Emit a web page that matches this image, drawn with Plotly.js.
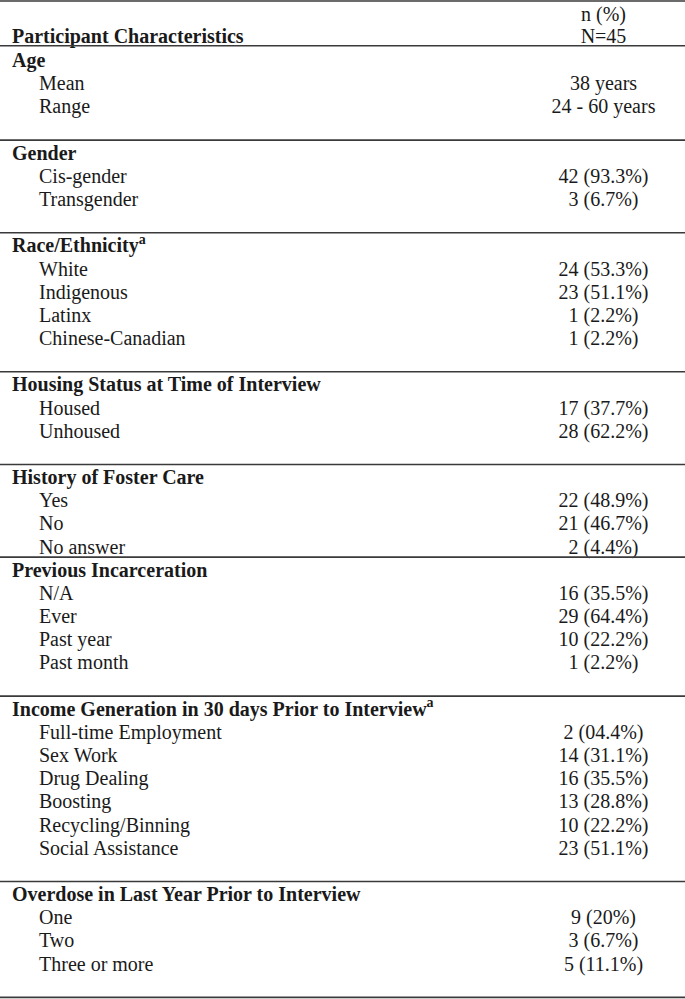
<!DOCTYPE html>
<html>
<head>
<meta charset="utf-8">
<script src="https://cdn.plot.ly/plotly-3.0.1.min.js"></script>
<style>html,body{margin:0;padding:0;background:#fff;}#chart{width:685px;height:999px;}</style>
</head>
<body>
<div id="chart"></div>
<script>
// ---- data ----
const tableTitle = "Participant Characteristics";
const valueHeader = ["n (%)", "N=45"];
const categories = [
  "Age",
  "Gender",
  "Race/Ethnicity<sup>a</sup>",
  "Housing Status at Time of Interview",
  "History of Foster Care",
  "Previous Incarceration",
  "Income Generation in 30 days Prior to Interview<sup>a</sup>",
  "Overdose in Last Year Prior to Interview"
];
const itemLabels = [
  ["Mean", "Range"],
  ["Cis-gender", "Transgender"],
  ["White", "Indigenous", "Latinx", "Chinese-Canadian"],
  ["Housed", "Unhoused"],
  ["Yes", "No", "No answer"],
  ["N/A", "Ever", "Past year", "Past month"],
  ["Full-time Employment", "Sex Work", "Drug Dealing", "Boosting", "Recycling/Binning", "Social Assistance"],
  ["One", "Two", "Three or more"]
];
const itemValues = [
  ["38 years", "24 - 60 years"],
  ["42 (93.3%)", "3 (6.7%)"],
  ["24 (53.3%)", "23 (51.1%)", "1 (2.2%)", "1 (2.2%)"],
  ["17 (37.7%)", "28 (62.2%)"],
  ["22 (48.9%)", "21 (46.7%)", "2 (4.4%)"],
  ["16 (35.5%)", "29 (64.4%)", "10 (22.2%)", "1 (2.2%)"],
  ["2 (04.4%)", "14 (31.1%)", "16 (35.5%)", "13 (28.8%)", "10 (22.2%)", "23 (51.1%)"],
  ["9 (20%)", "3 (6.7%)", "5 (11.1%)"]
];
// blank spacer rows after each section (layout)
const spacerRows = [1, 1, 1, 1, 0, 1, 1, 1];

// ---- layout constants ----
const FONT = "Liberation Serif, Times New Roman, serif";
const FS = 20;
const X_HEAD = 12, X_ITEM = 39, X_VAL = 603.5;
const LINE_OFF = 0.63;

// ---- build rows ----
const headX = [], headY = [], headT = [];
const itemX = [], itemY = [], itemT = [];
const valX = [], valY = [], valT = [];
const ruleRows = [];
let r = 0;
categories.forEach((c, i) => {
  ruleRows.push(r - LINE_OFF);
  headX.push(X_HEAD); headY.push(r); headT.push("<b>" + c + "</b>");
  itemLabels[i].forEach((lab, j) => {
    r += 1;
    itemX.push(X_ITEM); itemY.push(r); itemT.push(lab);
    valX.push(X_VAL); valY.push(r); valT.push(itemValues[i][j]);
  });
  r += 1 + spacerRows[i];
});
ruleRows.push(r - LINE_OFF);

// header row
headX.push(X_HEAD); headY.push(-1.04); headT.push("<b>" + tableTitle + "</b>");
valX.push(X_VAL, X_VAL); valY.push(-1.99, -1.04); valT.push(valueHeader[0], valueHeader[1]);

const txtFont = {family: FONT, size: FS, color: "#1a1a1a"};
const traces = [
  {x: headX, y: headY, text: headT, mode: "text", type: "scatter", textposition: "middle right", textfont: txtFont, hoverinfo: "skip", showlegend: false, cliponaxis: false},
  {x: itemX, y: itemY, text: itemT, mode: "text", type: "scatter", textposition: "middle right", textfont: txtFont, hoverinfo: "skip", showlegend: false, cliponaxis: false},
  {x: valX, y: valY, text: valT, mode: "text", type: "scatter", textposition: "middle center", textfont: txtFont, hoverinfo: "skip", showlegend: false, cliponaxis: false}
];

const ruleStyle = {color: "#3a3a3a", width: 1.6};
const shapes = [{type: "line", xref: "paper", yref: "y", x0: 0, x1: 1, y0: -2.633, y1: -2.633, line: ruleStyle}];
shapes.push({type: "line", xref: "paper", yref: "y", x0: 0, x1: 1, y0: -0.70, y1: -0.70, line: ruleStyle});
ruleRows.slice(1).forEach(y => shapes.push({type: "line", xref: "paper", yref: "y", x0: 0, x1: 1, y0: y, y1: y, line: ruleStyle}));

const layout = {
  width: 685, height: 999,
  margin: {l: 0, r: 0, t: 0, b: 0},
  paper_bgcolor: "#fff", plot_bgcolor: "#fff",
  xaxis: {range: [0, 685], visible: false, fixedrange: true},
  yaxis: {range: [40.44, -2.676], visible: false, fixedrange: true},
  shapes: shapes,
  showlegend: false
};
Plotly.newPlot("chart", traces, layout, {displayModeBar: false, staticPlot: true});
</script>
</body>
</html>
